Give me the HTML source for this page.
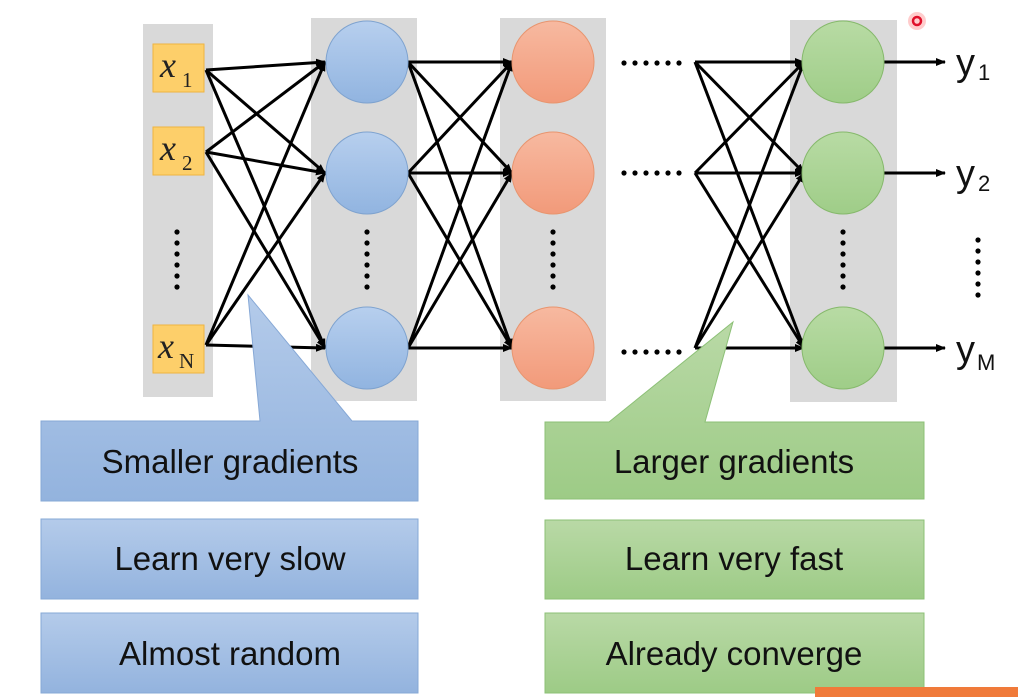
<!DOCTYPE html>
<html><head><meta charset="utf-8"><style>
html,body{margin:0;padding:0;background:#fff;}
svg{display:block;}
.s{font-family:"Liberation Sans",sans-serif;}
.m{font-family:"Liberation Serif",serif;}
</style></head><body>
<svg width="1018" height="697" viewBox="0 0 1018 697" xmlns="http://www.w3.org/2000/svg">
<defs>
<marker id="ar" markerWidth="10" markerHeight="8" refX="9" refY="4" orient="auto" markerUnits="userSpaceOnUse">
<path d="M0,0 L10,4 L0,8 Z" fill="#000"/></marker>
<linearGradient id="gb" x1="0" y1="0" x2="0" y2="1"><stop offset="0" stop-color="#b4cbea"/><stop offset="1" stop-color="#93b3de"/></linearGradient>
<linearGradient id="gg" x1="0" y1="0" x2="0" y2="1"><stop offset="0" stop-color="#b9d9a6"/><stop offset="1" stop-color="#9dcb86"/></linearGradient>
<linearGradient id="cb" x1="0" y1="0" x2="0" y2="1"><stop offset="0" stop-color="#b7cfee"/><stop offset="1" stop-color="#91b4e0"/></linearGradient>
<linearGradient id="co" x1="0" y1="0" x2="0" y2="1"><stop offset="0" stop-color="#f7b9a0"/><stop offset="1" stop-color="#f29a7a"/></linearGradient>
<linearGradient id="cg" x1="0" y1="0" x2="0" y2="1"><stop offset="0" stop-color="#b8dba4"/><stop offset="1" stop-color="#9fcd88"/></linearGradient>
<g id="vd" fill="#000"><circle cx="0" cy="0" r="2.6"/><circle cx="0" cy="11" r="2.6"/><circle cx="0" cy="22" r="2.6"/><circle cx="0" cy="33" r="2.6"/><circle cx="0" cy="44" r="2.6"/><circle cx="0" cy="55" r="2.6"/></g>
<g id="hd" fill="#000"><circle cx="0" cy="0" r="2.6"/><circle cx="11" cy="0" r="2.6"/><circle cx="22" cy="0" r="2.6"/><circle cx="33" cy="0" r="2.6"/><circle cx="44" cy="0" r="2.6"/><circle cx="55" cy="0" r="2.6"/></g>
</defs>
<rect x="143" y="24" width="70" height="373" fill="#d9d9d9"/>
<rect x="311" y="18" width="106" height="383" fill="#d9d9d9"/>
<rect x="500" y="18" width="106" height="383" fill="#d9d9d9"/>
<rect x="790" y="20" width="107" height="382" fill="#d9d9d9"/>
<g fill="#fdcf6a" stroke="#f0b440" stroke-width="1">
<rect x="153" y="44" width="51" height="48"/>
<rect x="153" y="127" width="51" height="48"/>
<rect x="153" y="325" width="51" height="48"/>
</g>
<g class="m" font-style="italic" font-size="36" fill="#222">
<text x="160" y="77">x</text><text x="160" y="160">x</text><text x="158" y="358">x</text>
</g>
<g class="m" font-size="21" fill="#222">
<text x="182" y="87">1</text><text x="182" y="170">2</text><text x="179" y="368">N</text>
</g>
<g stroke="#000" stroke-width="3" marker-end="url(#ar)">
<line x1="206" y1="70" x2="325" y2="62"/><line x1="206" y1="70" x2="325" y2="173"/><line x1="206" y1="70" x2="325" y2="348"/>
<line x1="206" y1="152" x2="325" y2="62"/><line x1="206" y1="152" x2="325" y2="173"/><line x1="206" y1="152" x2="325" y2="348"/>
<line x1="206" y1="345" x2="325" y2="62"/><line x1="206" y1="345" x2="325" y2="173"/><line x1="206" y1="345" x2="325" y2="348"/>
<line x1="408" y1="62" x2="512" y2="62"/><line x1="408" y1="62" x2="512" y2="173"/><line x1="408" y1="62" x2="512" y2="348"/>
<line x1="408" y1="173" x2="512" y2="62"/><line x1="408" y1="173" x2="512" y2="173"/><line x1="408" y1="173" x2="512" y2="348"/>
<line x1="408" y1="348" x2="512" y2="62"/><line x1="408" y1="348" x2="512" y2="173"/><line x1="408" y1="348" x2="512" y2="348"/>
<line x1="695" y1="62" x2="804" y2="62"/><line x1="695" y1="62" x2="804" y2="173"/><line x1="695" y1="62" x2="804" y2="348"/>
<line x1="695" y1="173" x2="804" y2="62"/><line x1="695" y1="173" x2="804" y2="173"/><line x1="695" y1="173" x2="804" y2="348"/>
<line x1="695" y1="348" x2="804" y2="62"/><line x1="695" y1="348" x2="804" y2="173"/><line x1="695" y1="348" x2="804" y2="348"/>
<line x1="884" y1="62" x2="945" y2="62"/><line x1="884" y1="173" x2="945" y2="173"/><line x1="884" y1="348" x2="945" y2="348"/>
</g>
<g stroke="#7fa3cf" stroke-width="1" fill="url(#cb)">
<circle cx="367" cy="62" r="41"/><circle cx="367" cy="173" r="41"/><circle cx="367" cy="348" r="41"/>
</g>
<g stroke="#e8956f" stroke-width="1" fill="url(#co)">
<circle cx="553" cy="62" r="41"/><circle cx="553" cy="173" r="41"/><circle cx="553" cy="348" r="41"/>
</g>
<g stroke="#86b96c" stroke-width="1" fill="url(#cg)">
<circle cx="843" cy="62" r="41"/><circle cx="843" cy="173" r="41"/><circle cx="843" cy="348" r="41"/>
</g>
<use href="#vd" x="177" y="232"/>
<use href="#vd" x="367" y="232"/>
<use href="#vd" x="553" y="232"/>
<use href="#vd" x="843" y="232"/>
<use href="#vd" x="978" y="240"/>
<use href="#hd" x="624" y="63"/>
<use href="#hd" x="624" y="173"/>
<use href="#hd" x="624" y="352"/>
<g class="s" font-size="38" fill="#111">
<text x="956" y="75">y</text><text x="956" y="186">y</text><text x="956" y="362">y</text>
</g>
<g class="s" font-size="22" fill="#111">
<text x="978" y="80">1</text><text x="978" y="191">2</text><text x="977" y="370">M</text>
</g>
<path d="M41,421 L260,421 L248,295 L352,421 L418,421 L418,501 L41,501 Z" fill="url(#gb)" stroke="#86a8d6" stroke-width="1"/>
<rect x="41" y="519" width="377" height="80" fill="url(#gb)" stroke="#86a8d6"/>
<rect x="41" y="613" width="377" height="80" fill="url(#gb)" stroke="#86a8d6"/>
<path d="M545,422 L609,422 L733,322 L705,422 L924,422 L924,499 L545,499 Z" fill="url(#gg)" stroke="#8cc076" stroke-width="1"/>
<rect x="545" y="520" width="379" height="79" fill="url(#gg)" stroke="#8cc076"/>
<rect x="545" y="613" width="379" height="80" fill="url(#gg)" stroke="#8cc076"/>
<g class="s" font-size="33" fill="#111" text-anchor="middle">
<text x="230" y="473">Smaller gradients</text>
<text x="230" y="570">Learn very slow</text>
<text x="230" y="665">Almost random</text>
<text x="734" y="473">Larger gradients</text>
<text x="734" y="570">Learn very fast</text>
<text x="734" y="665">Already converge</text>
</g>
<circle cx="917" cy="21" r="9" fill="#ff9a9a" opacity="0.5"/>
<circle cx="917" cy="21" r="4" fill="none" stroke="#e0102a" stroke-width="2.5"/>
<rect x="815" y="687" width="203" height="10" fill="#f07a3a"/>
</svg>
</body></html>
